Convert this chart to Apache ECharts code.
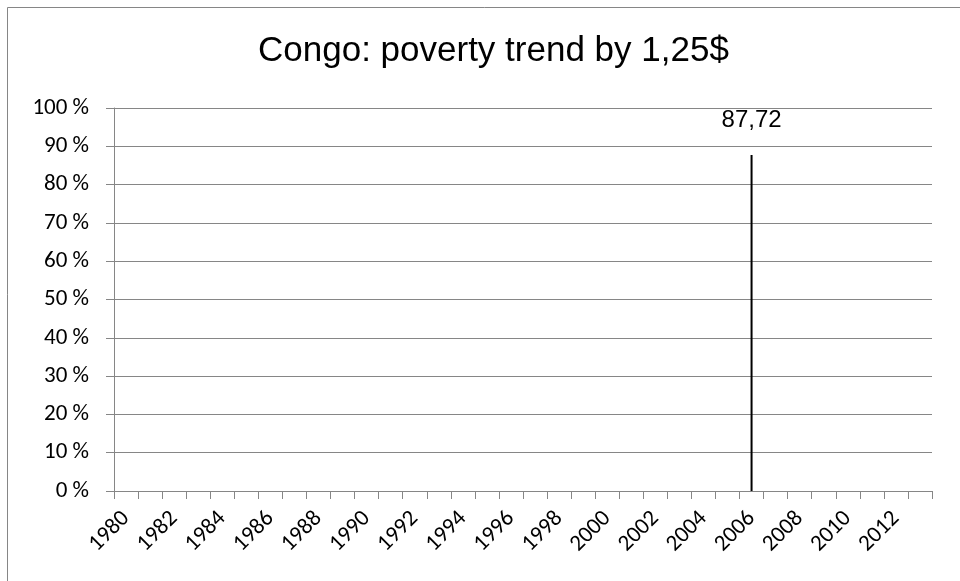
<!DOCTYPE html>
<html lang="en">

<head>
    <title>echarts</title>
    <meta http-equiv="content-type" content="text/html; charset=utf-8">
    <script src="https://cdn.jsdelivr.net/npm/echarts@6/dist/echarts.min.js"></script>
</head>

<style>
    * {
        margin: 0;
        padding: 0;
        box-sizing: border-box;
    }

    html,
    body {
        width: 100%;
        height: 100%;
        background: #fff;
    }

    #main {
        width: 960px;
        height: 581px;
    }
</style>

<body>
    <div id="main"></div>
</body>
<script>
    // years on the category axis (1980 - 2013)
    const years = [];
    for (let y = 1980; y <= 2013; y++) years.push(String(y));

    // poverty headcount at 1,25$ (only one survey year)
    const povertyYears = ['2006'];
    const povertyValues = [87.72];

    const yTicks = [0, 10, 20, 30, 40, 50, 60, 70, 80, 90, 100];

    const seriesData = years.map(y => {
        const i = povertyYears.indexOf(y);
        return i === -1 ? null : povertyValues[i];
    });

    const labelFont = 'Calibri, Carlito, Lato, sans-serif';
    const narrowFont = '"Liberation Sans Narrow", "Arial Narrow", "Liberation Sans", sans-serif';
    const axisGray = '#868686';

    const myChart = echarts.init(document.getElementById('main'));

    myChart.setOption({
        animation: false,
        backgroundColor: '#fff',
        graphic: [{
            type: 'rect',
            shape: { x: 7.5, y: 7.5, width: 1000, height: 1000 },
            style: { fill: 'none', stroke: axisGray, lineWidth: 1 }
        }],
        title: {
            text: 'Congo: poverty trend by 1,25$',
            left: 253,
            top: 29,
            textStyle: {
                fontFamily: narrowFont,
                fontWeight: 'normal',
                fontSize: 35,
                color: '#000'
            }
        },
        grid: {
            left: 114,
            right: 28,
            top: 108,
            bottom: 90
        },
        xAxis: {
            type: 'category',
            data: years,
            boundaryGap: true,
            axisLine: { lineStyle: { color: axisGray, width: 1 } },
            axisTick: { show: true, length: 8, interval: 0, lineStyle: { color: axisGray } },
            axisLabel: {
                interval: 1,
                rotate: 45,
                margin: 24,
                fontFamily: labelFont,
                fontSize: 23,
                color: '#000'
            },
            splitLine: { show: false }
        },
        yAxis: {
            type: 'value',
            min: yTicks[0],
            max: yTicks[yTicks.length - 1],
            interval: 10,
            axisLine: { show: true, lineStyle: { color: axisGray, width: 1 } },
            axisTick: { show: true, length: 8, lineStyle: { color: axisGray } },
            axisLabel: {
                formatter: '{value} %',
                margin: 25,
                fontFamily: labelFont,
                fontSize: 23,
                color: '#000'
            },
            splitLine: { lineStyle: { color: axisGray, width: 1 } }
        },
        series: [{
            type: 'bar',
            data: seriesData,
            barWidth: 2,
            itemStyle: { color: '#000' },
            label: {
                show: true,
                position: 'top',
                distance: 23,
                formatter: p => String(p.value).replace('.', ','),
                fontFamily: narrowFont,
                fontSize: 24,
                color: '#000'
            }
        }]
    });
</script>

</html>
